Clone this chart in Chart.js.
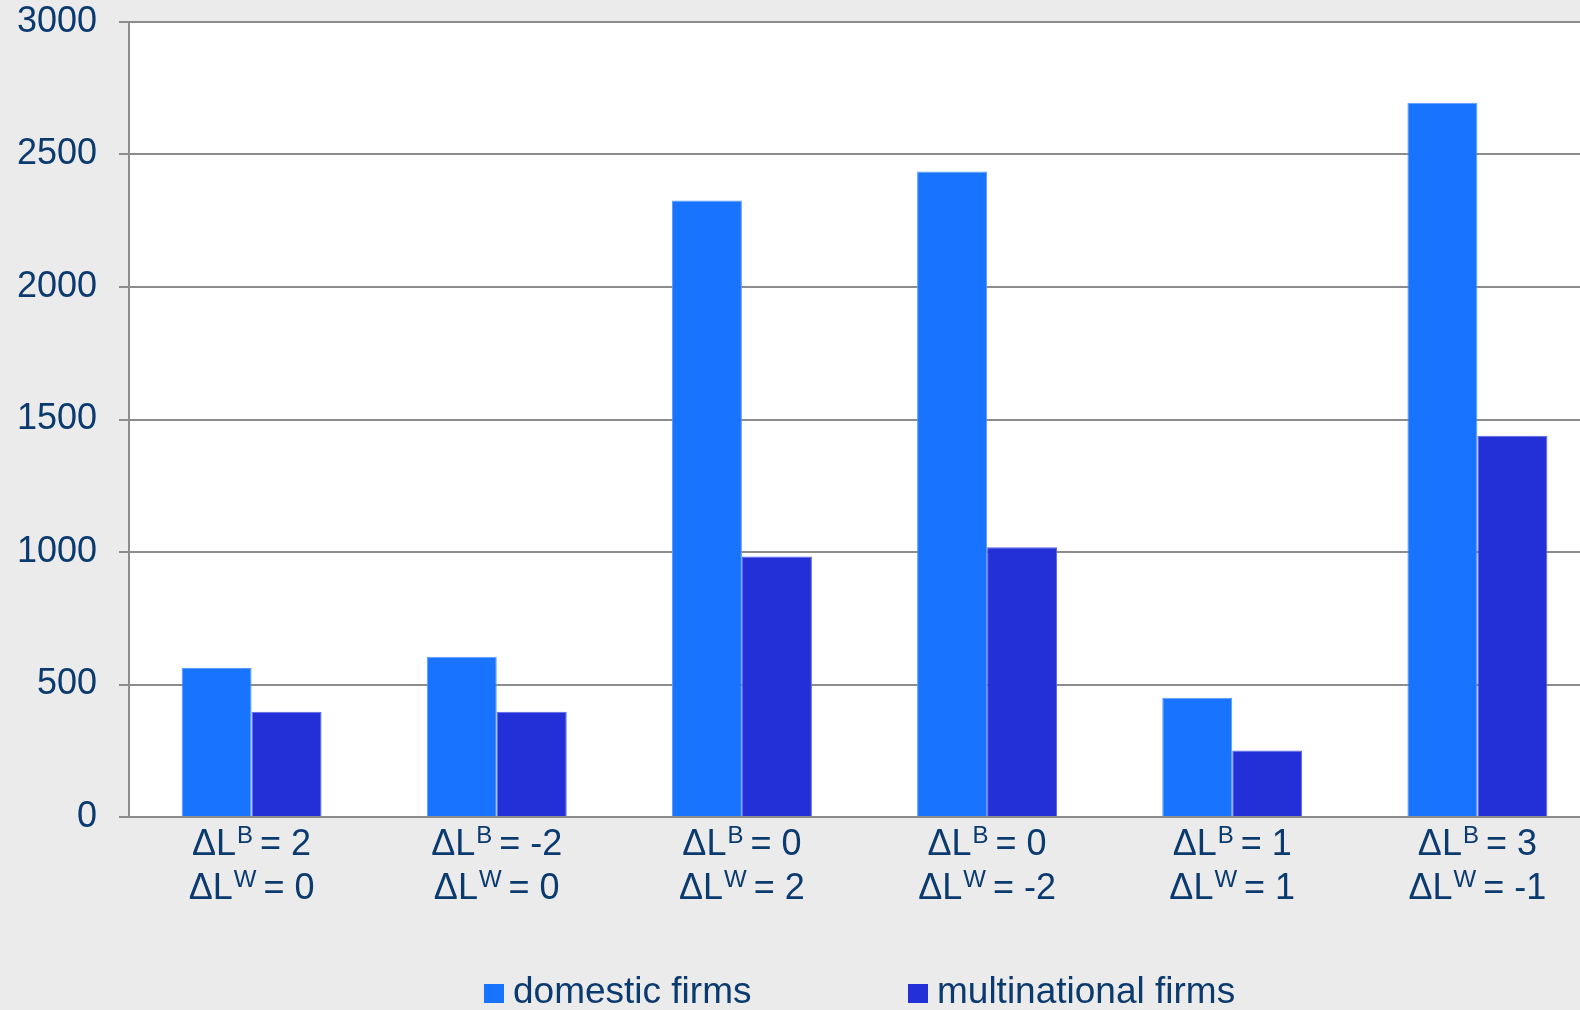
<!DOCTYPE html>
<html>
<head>
<meta charset="utf-8">
<script src="https://cdn.jsdelivr.net/npm/chart.js@4.4.0/dist/chart.umd.min.js"></script>
<style>
  html, body { margin: 0; padding: 0; background: #ebebeb; overflow: hidden; }
  #wrap { width: 1600px; height: 1010px; }
</style>
</head>
<body>
<div id="wrap"><canvas id="graphsCanvas" width="1600" height="1010"></canvas></div>
<script>
// category labels: [superscript B value, superscript W value]
const deltaB = ['2', '-2', '0', '0', '1', '3'];
const deltaW = ['0', '0', '2', '-2', '1', '-1'];
const categories = deltaB.map((b, i) => 'ΔL^B = ' + b + ' / ΔL^W = ' + deltaW[i]);

const domestic = [562, 605, 2326, 2436, 450, 2695];
const multinational = [397, 397, 983, 1018, 251, 1439];

const yTicks = [0, 500, 1000, 1500, 2000, 2500, 3000];

const TEXT = '#0b3a6e';
const GRID = '#8c8c8c';
const FONT = '"Liberation Sans", Arial, sans-serif';

// white plot area
const plotBg = {
  id: 'plotBg',
  beforeDraw(chart) {
    const { ctx, chartArea: a } = chart;
    ctx.save();
    ctx.fillStyle = '#ffffff';
    ctx.fillRect(a.left, a.top, a.right - a.left, a.bottom - a.top);
    ctx.restore();
  }
};

// two line x labels with superscripts
const xLabels = {
  id: 'xLabels',
  afterDraw(chart) {
    const ctx = chart.ctx;
    const xs = chart.scales.x;
    const lines = [[deltaB, 'B', 855], [deltaW, 'W', 899]];
    ctx.save();
    ctx.fillStyle = TEXT;
    ctx.textBaseline = 'alphabetic';
    ctx.textAlign = 'left';
    deltaB.forEach((_, i) => {
      const cx = xs.getPixelForValue(i);
      lines.forEach(([vals, sup, y]) => {
        const head = 'ΔL', tail = '= ' + vals[i];
        ctx.font = '36px ' + FONT;
        const w1 = ctx.measureText(head).width;
        const w3 = ctx.measureText(tail).width;
        ctx.font = '24px ' + FONT;
        const w2 = ctx.measureText(sup).width;
        const gap = 7;
        let x = cx - (w1 + 1 + w2 + gap + w3) / 2;
        ctx.font = '36px ' + FONT;
        ctx.fillText(head, x, y);
        x += w1 + 1;
        ctx.font = '24px ' + FONT;
        ctx.fillText(sup, x, y - 12);
        x += w2 + gap;
        ctx.font = '36px ' + FONT;
        ctx.fillText(tail, x, y);
      });
    });
    ctx.restore();
  }
};

// legend along the bottom
const bottomLegend = {
  id: 'bottomLegend',
  afterDraw(chart) {
    const ctx = chart.ctx;
    const starts = [484, 908];
    ctx.save();
    ctx.font = '37px ' + FONT;
    ctx.textBaseline = 'alphabetic';
    chart.data.datasets.forEach((ds, i) => {
      ctx.fillStyle = ds.backgroundColor;
      ctx.fillRect(starts[i], 984, 20, 19);
      ctx.fillStyle = TEXT;
      ctx.fillText(ds.label, starts[i] + 29, 1003);
    });
    ctx.restore();
  }
};

new Chart(document.getElementById('graphsCanvas'), {
  type: 'bar',
  data: {
    labels: categories,
    datasets: [
      { label: 'domestic firms', data: domestic, backgroundColor: '#1874ff', borderColor: '#5c9aff', borderWidth: 1 },
      { label: 'multinational firms', data: multinational, backgroundColor: '#2330d8', borderColor: '#5a63e6', borderWidth: 1 }
    ]
  },
  options: {
    responsive: false,
    animation: false,
    layout: { padding: { left: 18, right: 0, top: 22, bottom: 193 } },
    datasets: { bar: { barPercentage: 1, categoryPercentage: 0.571 } },
    plugins: { legend: { display: false }, tooltip: { enabled: false } },
    scales: {
      x: { display: false },
      y: {
        min: 0,
        max: 3000,
        afterFit(s) { s.width = 111; s.paddingTop = 0; s.paddingBottom = 0; },
        afterBuildTicks(s) { s.ticks = yTicks.map(v => ({ value: v })); },
        ticks: { color: TEXT, font: { family: FONT, size: 36 }, padding: 22, callback: v => String(v) },
        grid: { color: GRID, lineWidth: 2, tickLength: 10 },
        border: { color: GRID, width: 2 }
      }
    }
  },
  plugins: [plotBg, xLabels, bottomLegend]
});
</script>
</body>
</html>
